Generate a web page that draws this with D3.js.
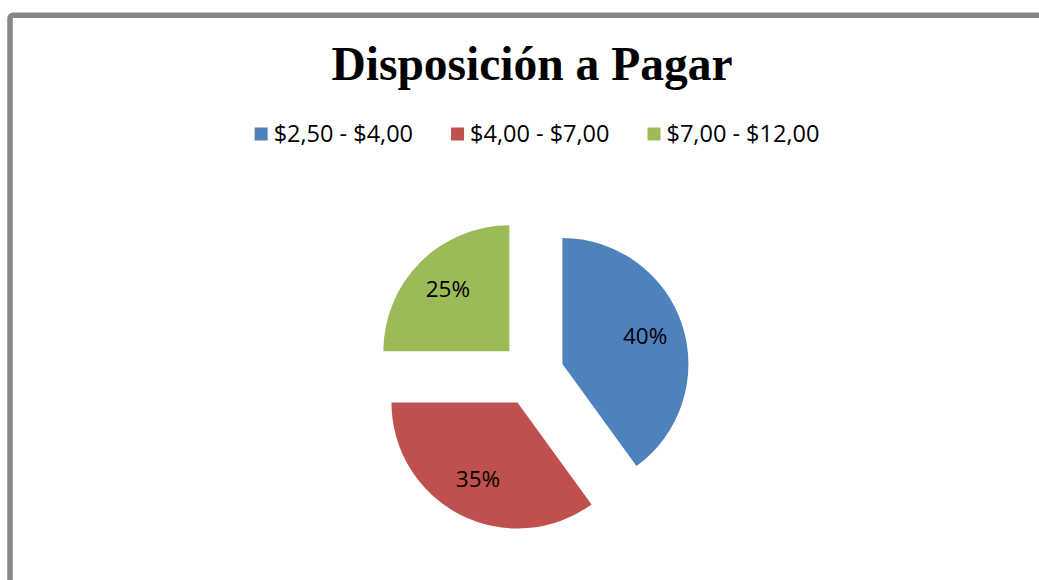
<!DOCTYPE html>
<html>
<head>
<meta charset="utf-8">
<script src="https://cdn.jsdelivr.net/npm/d3@7"></script>
<style>
  body { margin: 0; background: #fff; }
  svg { display: block; }
</style>
</head>
<body>
<div id="chart"></div>
<script>
// data
let categories = ["$2,50 - $4,00", "$4,00 - $7,00", "$7,00 - $12,00"];
let values = [40, 35, 25];
let colors = ["#4f81bd", "#c0504d", "#9bbb59"];

let width = 1039;
let height = 580;
let radius = 126;
let explode = 32;
let cx = 532, cy = 374;

let svg = d3.select("#chart").append("svg")
  .attr("width", width)
  .attr("height", height);

// chart frame (cut off at right and bottom)
svg.append("rect")
  .attr("x", 10)
  .attr("y", 15.3)
  .attr("width", width + 20)
  .attr("height", height + 20)
  .attr("rx", 3)
  .style("fill", "none")
  .style("stroke", "#878787")
  .style("stroke-width", 5.5);

// title
svg.append("text")
  .attr("x", 532)
  .attr("y", 80)
  .attr("text-anchor", "middle")
  .style("font-family", "'Liberation Serif', 'Times New Roman', serif")
  .style("font-weight", "bold")
  .style("font-size", "47.5px")
  .text("Disposición a Pagar");

// legend
let legend = svg.append("g").attr("class", "legend");
let items = legend.selectAll("g")
  .data(categories)
  .enter()
  .append("g");
items.append("rect")
  .attr("width", 13)
  .attr("height", 13)
  .attr("y", 127.5)
  .style("fill", function(d, i) { return colors[i]; });
items.append("text")
  .attr("x", 19)
  .attr("y", 142)
  .style("font-family", "'Open Sans', sans-serif")
  .style("font-size", "23.5px")
  .style("fill", "#000")
  .text(function(d) { return d; });

// place legend items side by side, centered
let gap = 38;
let widths = [];
items.each(function() {
  widths.push(19 + d3.select(this).select("text").node().getComputedTextLength());
});
let total = d3.sum(widths) + gap * (widths.length - 1);
let xpos = 537 - total / 2;
items.attr("transform", function(d, i) {
  let x = xpos;
  xpos += widths[i] + gap;
  return "translate(" + x + ",0)";
});

// pie
let pie = d3.pie().sort(null).value(function(d) { return d; });
let arc = d3.arc().innerRadius(0).outerRadius(radius);
let arcs = pie(values);

let slices = svg.append("g")
  .attr("transform", "translate(" + cx + "," + cy + ")")
  .selectAll("g")
  .data(arcs)
  .enter()
  .append("g")
  .attr("transform", function(d) {
    let a = (d.startAngle + d.endAngle) / 2;
    return "translate(" + (explode * Math.sin(a)) + "," + (-explode * Math.cos(a)) + ")";
  });

slices.append("path")
  .attr("d", arc)
  .style("fill", function(d, i) { return colors[i]; });

let labelR = radius * 0.69;
slices.append("text")
  .attr("x", function(d) { return labelR * Math.sin((d.startAngle + d.endAngle) / 2); })
  .attr("y", function(d) { return -labelR * Math.cos((d.startAngle + d.endAngle) / 2); })
  .attr("dy", "0.3em")
  .attr("text-anchor", "middle")
  .style("font-family", "'Open Sans', sans-serif")
  .style("font-size", "22.5px")
  .style("fill", "#000")
  .text(function(d) { return d.data + "%"; });
</script>
</body>
</html>
